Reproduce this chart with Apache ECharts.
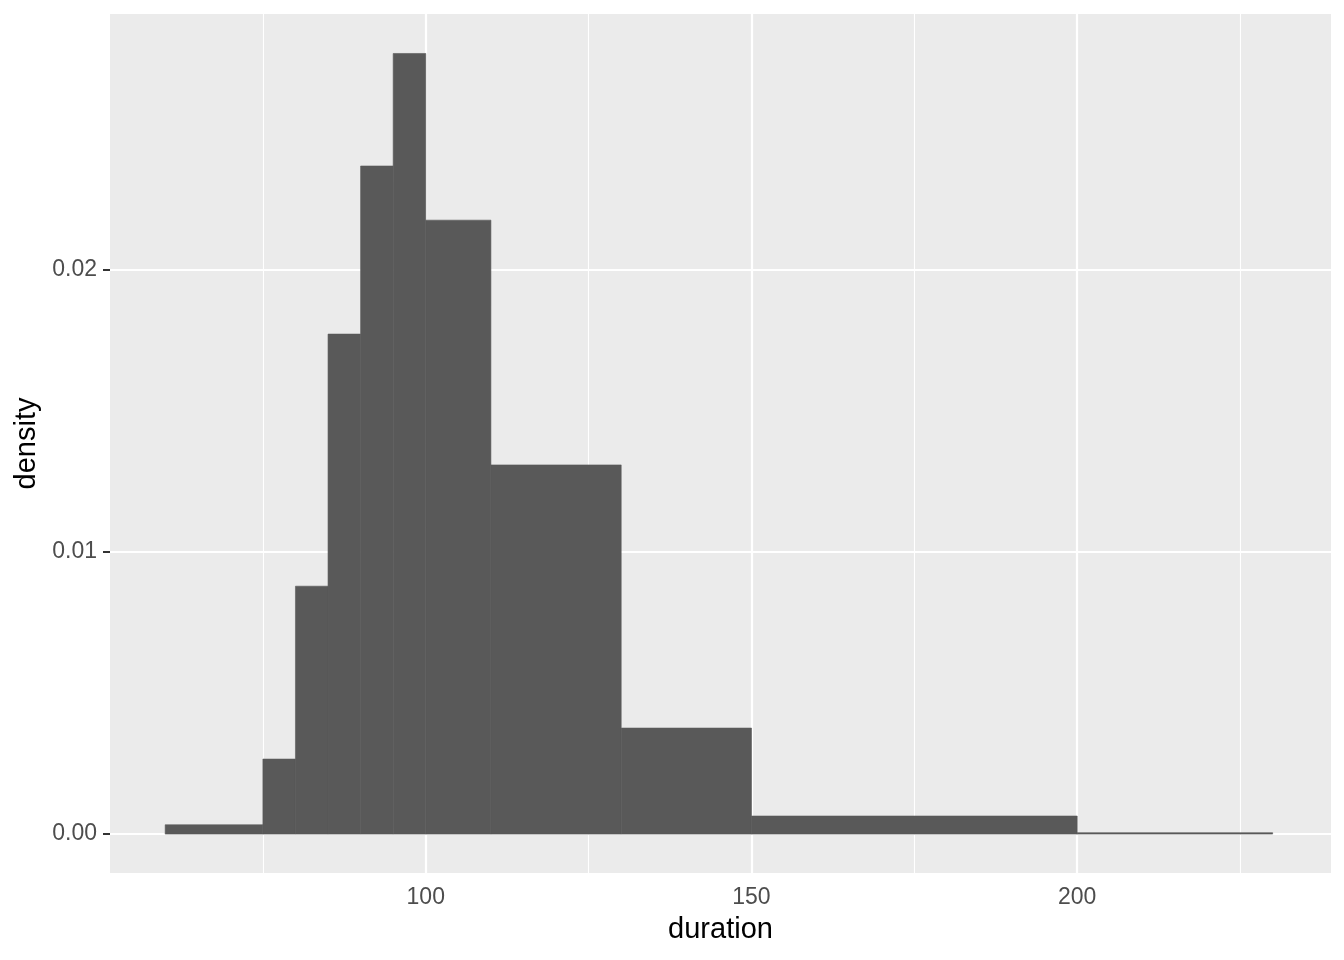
<!DOCTYPE html>
<html>
<head>
<meta charset="utf-8">
<script src="https://cdn.jsdelivr.net/npm/echarts@6/dist/echarts.min.js"></script>
<style>
  html, body { margin: 0; padding: 0; background: #fff; }
  #chart { width: 1344px; height: 960px; }
</style>
</head>
<body>
<div id="chart"></div>
<script>
// histogram bin edges and densities
var breaks = [60, 75, 80, 85, 90, 95, 100, 110, 130, 150, 200, 230];
var density = [0.00033, 0.00266, 0.00879, 0.01773, 0.02369, 0.02768, 0.02177, 0.01309, 0.00376, 0.00064, 0.00005];

var xTicks = [100, 150, 200];
var xMinor = [75, 125, 175, 225];
var yTicks = [0, 0.01, 0.02];
var yMinor = [0.005, 0.015, 0.025];

var bins = [];
for (var i = 0; i < density.length; i++) {
  bins.push([breaks[i], breaks[i + 1], density[i]]);
}

var gridLines = [];
xMinor.forEach(function (v) { gridLines.push({ xAxis: v, lineStyle: { width: 1.1 } }); });
yMinor.forEach(function (v) { gridLines.push({ yAxis: v, lineStyle: { width: 1.1 } }); });
xTicks.forEach(function (v) { gridLines.push({ xAxis: v, lineStyle: { width: 2.2 } }); });
yTicks.forEach(function (v) { gridLines.push({ yAxis: v, lineStyle: { width: 2.2 } }); });

var font = 'Liberation Sans, Arial, sans-serif';
var myChart = echarts.init(document.getElementById('chart'));
var option = {
  animation: false,
  textStyle: { fontFamily: font },
  grid: {
    left: 110, right: 13, top: 14, bottom: 87,
    show: true, backgroundColor: '#EBEBEB', borderWidth: 0
  },
  xAxis: {
    type: 'value',
    min: 51.53,
    max: 238.96,
    name: 'duration',
    nameLocation: 'middle',
    nameGap: 42,
    nameTextStyle: { color: '#000', fontSize: 29, fontFamily: font },
    axisLine: { show: false },
    axisTick: { show: true, customValues: xTicks, length: 7, lineStyle: { color: '#333', width: 2 } },
    axisLabel: { customValues: xTicks, color: '#4D4D4D', fontSize: 23, margin: 13, fontFamily: font },
    splitLine: { show: false }
  },
  yAxis: {
    type: 'value',
    min: -0.00138,
    max: 0.02908,
    name: 'density',
    nameLocation: 'middle',
    nameRotate: 90,
    nameGap: 68,
    nameTextStyle: { color: '#000', fontSize: 29, fontFamily: font },
    axisLine: { show: false },
    axisTick: { show: true, customValues: yTicks, length: 7, lineStyle: { color: '#333', width: 2 } },
    axisLabel: {
      customValues: yTicks, color: '#4D4D4D', fontSize: 23, margin: 13, fontFamily: font,
      formatter: function (v) { return v.toFixed(2); }
    },
    splitLine: { show: false }
  },
  series: [
    {
      type: 'line',
      data: [],
      z: 1,
      silent: true,
      markLine: {
        silent: true,
        symbol: ['none', 'none'],
        label: { show: false },
        lineStyle: { color: '#FFFFFF', type: 'solid', width: 2.2 },
        emphasis: { disabled: true },
        data: gridLines
      }
    },
    {
      type: 'custom',
      zlevel: 1,
      data: bins,
      renderItem: function (params, api) {
        var p0 = api.coord([api.value(0), api.value(2)]);
        var p1 = api.coord([api.value(1), 0]);
        return {
          type: 'rect',
          shape: { x: p0[0], y: p0[1], width: p1[0] - p0[0], height: p1[1] - p0[1] },
          style: { fill: '#595959', stroke: '#595959', lineWidth: 0.6 }
        };
      }
    }
  ]
};
myChart.setOption(option);
</script>
</body>
</html>
